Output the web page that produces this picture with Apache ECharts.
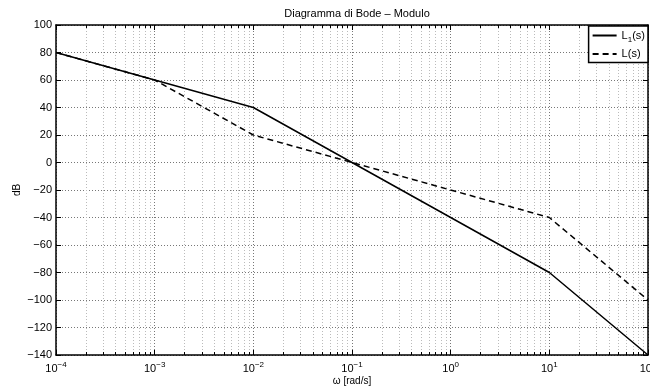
<!DOCTYPE html>
<html>
<head>
<meta charset="utf-8">
<script src="https://cdn.jsdelivr.net/npm/echarts@6/dist/echarts.min.js"></script>
<style>
  html, body { margin: 0; padding: 0; background: #fff; }
  #chart { width: 650px; height: 387px; }
</style>
</head>
<body>
<div id="chart"></div>
<script>
// frequency breakpoints (rad/s) and magnitudes (dB)
const omegaL1 = [1e-4, 1e-2, 1e1, 1e2];
const magL1 = [80, 40, -80, -140];
const omegaL = [1e-4, 1e-3, 1e-2, 1e1, 1e2];
const magL = [80, 60, 20, -40, -100];
const seriesNames = ['L1(s)', 'L(s)'];
const decades = [-4, -3, -2, -1, 0, 1, 2];
const minorSteps = [2, 3, 4, 5, 6, 7, 8, 9];

const minorVals = [];
decades.slice(0, -1).forEach(d => minorSteps.forEach(m => minorVals.push(m * Math.pow(10, d))));

const font = 'Liberation Sans, Arial, Helvetica, sans-serif';
const myChart = echarts.init(document.getElementById('chart'));

const expLabel = v => {
  const e = Math.round(Math.log10(v));
  return '{b|10}{s|' + (e < 0 ? '\u2212' + (-e) : e) + '}';
};

const option = {
  animation: false,
  backgroundColor: '#fff',
  title: {
    text: 'Diagramma di Bode \u2013 Modulo',
    left: 352,
    top: 3,
    textAlign: 'center',
    textStyle: { fontFamily: font, fontSize: 11, fontWeight: 'normal', color: '#000' }
  },
  legend: {
    data: seriesNames,
    orient: 'vertical',
    right: 2,
    top: 26,
    itemWidth: 24,
    itemHeight: 10,
    itemGap: 5,
    padding: [4, 3, 3, 3],
    borderColor: '#000',
    borderWidth: 1.5,
    backgroundColor: '#fff',
    itemStyle: { opacity: 0 },
    formatter: name => name === 'L1(s)' ? '{a|L}{sub|1}{a|(s)}' : '{a|L(s)}',
    textStyle: {
      fontFamily: font, fontSize: 11, color: '#000',
      rich: {
        a: { fontFamily: font, fontSize: 11, color: '#000' },
        sub: { fontFamily: font, fontSize: 8, color: '#000', verticalAlign: 'top', padding: [8, 0, 0, 0] }
      }
    }
  },
  grid: { left: 56, right: 2, top: 25, bottom: 32, outerBoundsMode: 'none', containLabel: false },
  xAxis: [
    {
      type: 'log', logBase: 10, min: 1e-4, max: 1e2, interval: 1,
      name: '\u03c9 [rad/s]', nameLocation: 'middle', nameGap: 21, nameMoveOverlap: false,
      nameTextStyle: { fontFamily: font, fontSize: 10, color: '#000' },
      axisLine: { onZero: false, lineStyle: { color: '#000', width: 1.5 } },
      axisTick: { inside: true, length: 5, lineStyle: { color: '#000' } },
      axisLabel: {
        margin: 6, formatter: expLabel,
        rich: {
          b: { fontFamily: font, fontSize: 11, color: '#000' },
          s: { fontFamily: font, fontSize: 8, color: '#000', verticalAlign: 'bottom', padding: [0, 0, 8, 0] }
        }
      },
      splitLine: { show: true, lineStyle: { color: '#777', type: [1, 2], width: 1 } }
    },
    {
      type: 'log', logBase: 10, min: 1e-4, max: 1e2, interval: 1, position: 'top',
      axisLine: { onZero: false, lineStyle: { color: '#000', width: 1.5 } },
      axisTick: { inside: true, length: 5, lineStyle: { color: '#000' } },
      axisLabel: { show: false },
      splitLine: { show: false }
    }
  ],
  yAxis: [
    {
      type: 'value', min: -140, max: 100, interval: 20,
      name: 'dB', nameLocation: 'middle', nameGap: 34, nameMoveOverlap: false,
      nameTextStyle: { fontFamily: font, fontSize: 10, color: '#000' },
      axisLine: { show: true, onZero: false, lineStyle: { color: '#000', width: 1.5 } },
      axisTick: { show: true, inside: true, length: 5, lineStyle: { color: '#000' } },
      axisLabel: {
        margin: 4, fontFamily: font, fontSize: 11, color: '#000',
        formatter: v => (v < 0 ? '\u2212' + (-v) : '' + v)
      },
      splitLine: { show: true, lineStyle: { color: '#777', type: [1, 2], width: 1 } }
    },
    {
      type: 'value', min: -140, max: 100, interval: 20, position: 'right',
      axisLine: { show: true, onZero: false, lineStyle: { color: '#000', width: 1.5 } },
      axisTick: { show: true, inside: true, length: 5, lineStyle: { color: '#000' } },
      axisLabel: { show: false },
      splitLine: { show: false }
    }
  ],
  series: [
    {
      type: 'custom',
      name: 'minor',
      silent: true,
      z: 1,
      data: minorVals.map(v => [v, 0]),
      renderItem: (params, api) => {
        const cs = params.coordSys;
        const x = Math.round(api.coord([api.value(0), 0])[0]) + 0.5;
        const top = cs.y, bot = cs.y + cs.height;
        return {
          type: 'group',
          children: [
            { type: 'line', shape: { x1: x, y1: top, x2: x, y2: bot },
              style: { stroke: '#bbb', lineWidth: 1, lineDash: [1, 2] } },
            { type: 'line', shape: { x1: x, y1: bot, x2: x, y2: bot - 3 },
              style: { stroke: '#000', lineWidth: 1 } },
            { type: 'line', shape: { x1: x, y1: top, x2: x, y2: top + 3 },
              style: { stroke: '#000', lineWidth: 1 } }
          ]
        };
      }
    },
    {
      name: 'L1(s)',
      type: 'line',
      z: 3,
      data: omegaL1.map((w, i) => [w, magL1[i]]),
      symbol: 'none',
      lineStyle: { color: '#000', width: 1.5, type: 'solid' },
      itemStyle: { color: '#000' }
    },
    {
      name: 'L(s)',
      type: 'line',
      z: 3,
      data: omegaL.map((w, i) => [w, magL[i]]),
      symbol: 'none',
      lineStyle: { color: '#000', width: 1.5, type: [6, 4] },
      itemStyle: { color: '#000' }
    }
  ]
};

myChart.setOption(option);
</script>
</body>
</html>
